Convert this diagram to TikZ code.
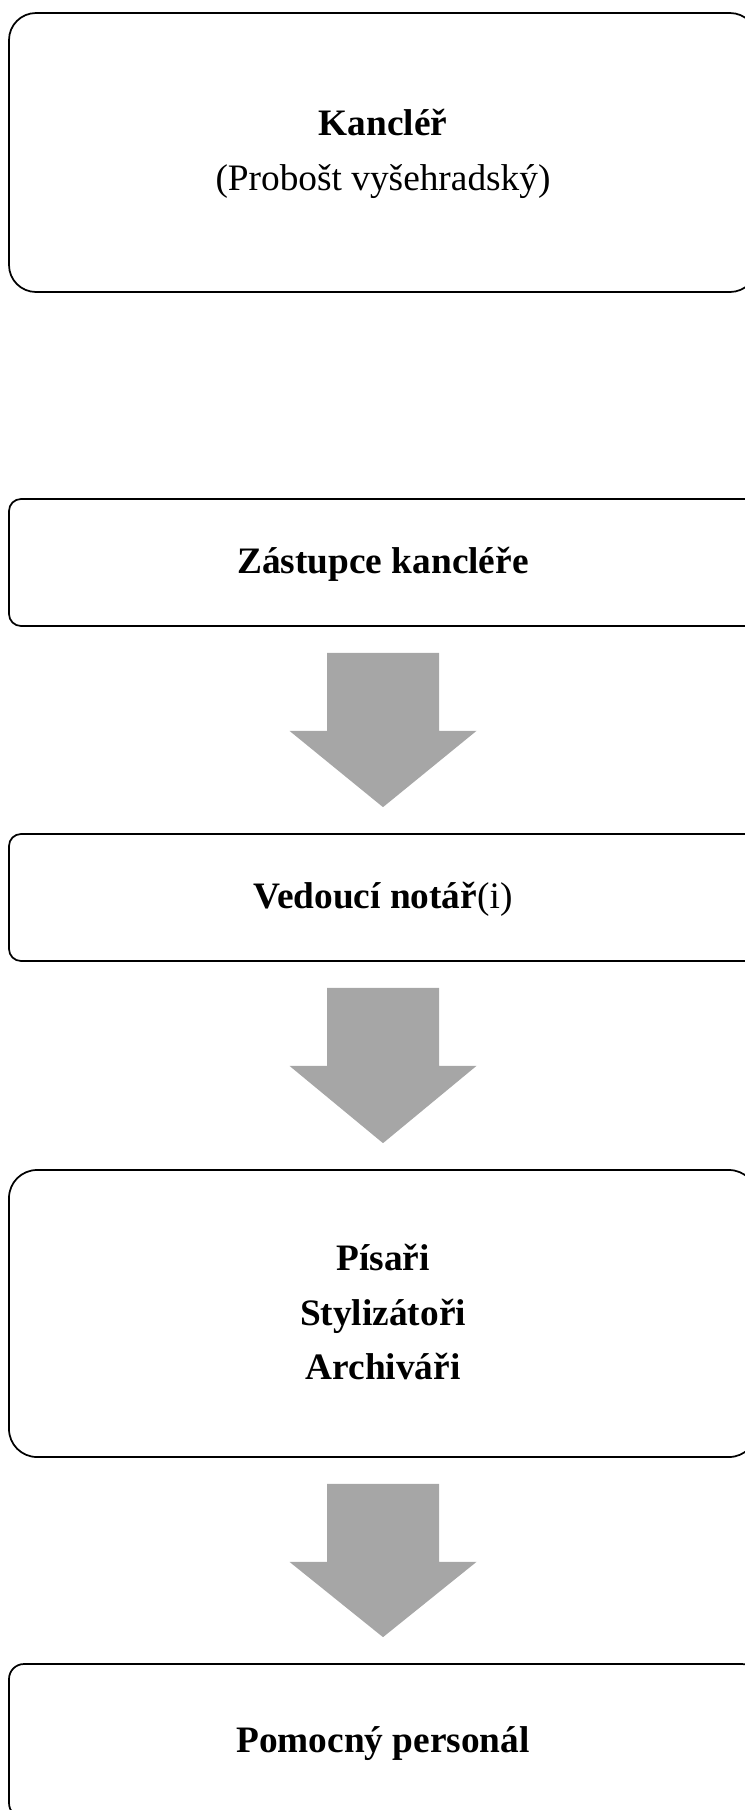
\documentclass[tikz,border=0pt]{standalone}
\usepackage{fontspec}
\setmainfont{Liberation Serif}
\usetikzlibrary{calc}
\definecolor{arrgray}{HTML}{A6A6A6}
\tikzset{
  box/.style={draw=black, line width=1.3pt, fill=white, rectangle, minimum width=561pt, inner sep=0pt},
  lbl/.style={anchor=base, inner sep=0pt, font=\fontsize{28}{41}\selectfont},
  blbl/.style={lbl, font=\fontsize{28}{41}\selectfont\bfseries},
  arr/.style={fill=arrgray, draw=none}
}
\begin{document}
\begin{tikzpicture}[x=0.75pt, y=-0.75pt]
\useasboundingbox (0,0) rectangle (745,1810);
\clip (0,0) rectangle (745,1810);
% boxes
\node[box, minimum height=209.25pt, rounded corners=20.25pt] (b1) at (383,152.5) {};
\node[box, minimum height=95.25pt, rounded corners=9pt] (b2) at (383,562.5) {};
\node[box, minimum height=95.25pt, rounded corners=9pt] (b3) at (383,897.5) {};
\node[box, minimum height=215.25pt, rounded corners=21pt] (b4) at (383,1313.5) {};
\node[box, minimum height=115.5pt, rounded corners=11.25pt] (b5) at (383,1741) {};
% texts
\node[blbl] (t1a) at (383,135) {Kancléř};
\node[lbl] (t1b) at (383,190) {(Probošt vyšehradský)};
\node[blbl] (t2) at (383,573) {Zástupce kancléře};
\node[lbl] (t3) at (383,908) {\textbf{Vedoucí notář}(i)};
\node[blbl] (t4a) at (383,1270.5) {Písaři};
\node[blbl] (t4b) at (383,1325) {Stylizátoři};
\node[blbl] (t4c) at (383,1379.5) {Archiváři};
\node[blbl] (t5) at (383,1752) {Pomocný personál};
% arrows
\foreach \a/\b in {b2/b3, b4/b5}{
  \fill[arr] ($(\a.south)+(-56,26)$) -- ($(\a.south)+(56,26)$) -- ($(\a.south)+(56,104)$)
    -- ($(\a.south)+(93.5,104)$) -- ($(\b.north)+(0,-26)$) -- ($(\a.south)+(-93.5,104)$)
    -- ($(\a.south)+(-56,104)$) -- cycle;
}
\fill[arr] ($(b3.south)+(-56,26)$) -- ($(b3.south)+(56,26)$) -- ($(b3.south)+(56,104)$)
    -- ($(b3.south)+(93.5,104)$) -- ($(b4.north)+(0,-26)$) -- ($(b3.south)+(-93.5,104)$)
    -- ($(b3.south)+(-56,104)$) -- cycle;
\end{tikzpicture}
\end{document}
